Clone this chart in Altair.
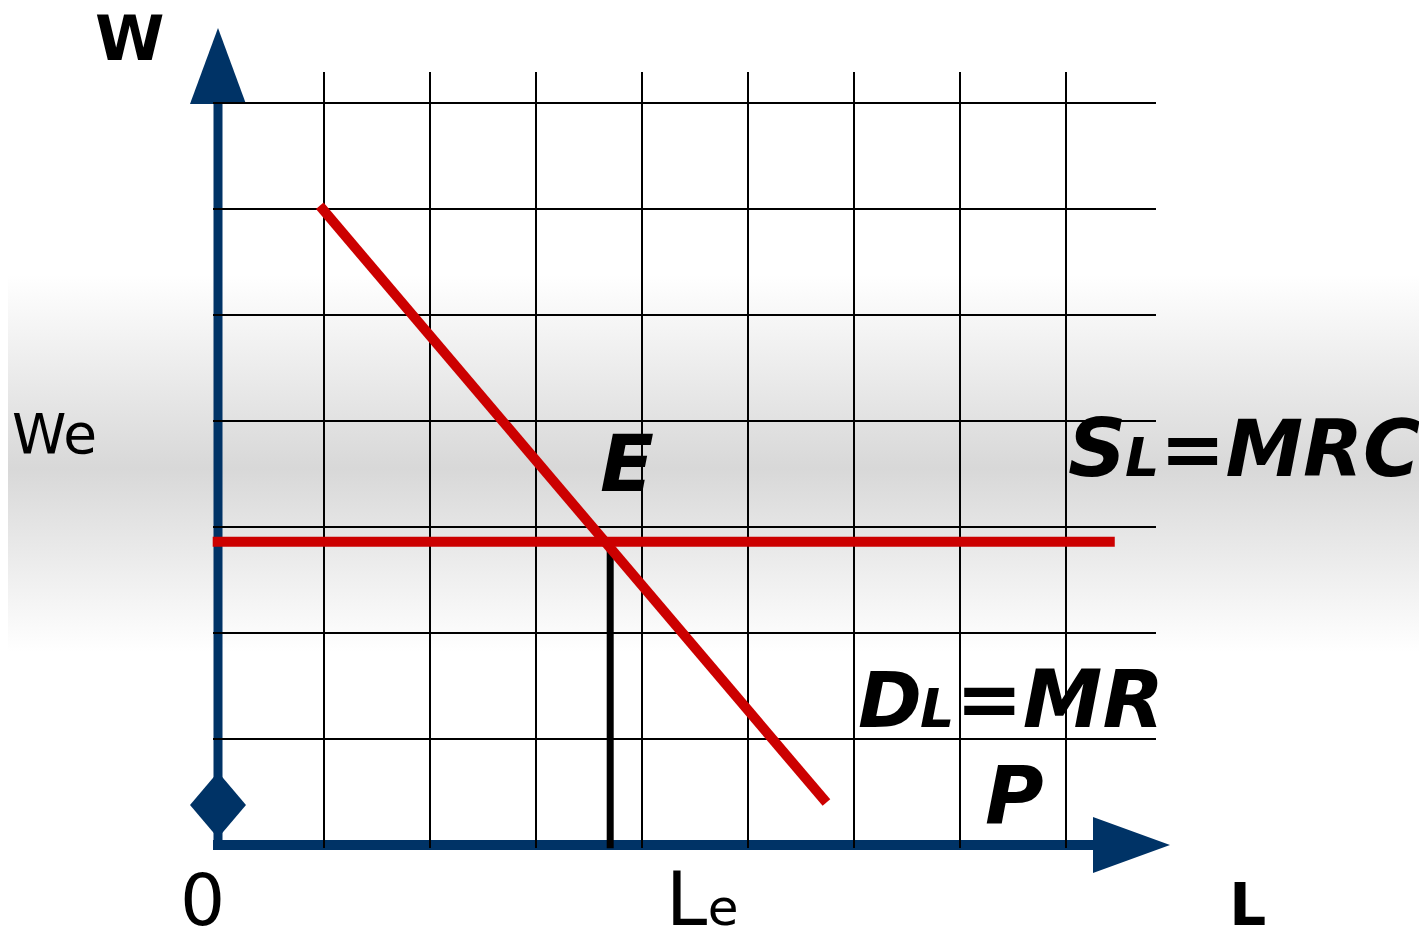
import altair as alt
import pandas as pd

# ---- data (grid units: one unit = one grid cell) ----
grid_x = [1, 2, 3, 4, 5, 6, 7, 8]
grid_y = [1, 2, 3, 4, 5, 6, 7]
demand_L = [0.96, 5.74]
demand_W = [6.03, 0.40]
supply_L = [-0.05, 8.46]
W_e = 2.86
L_e = 3.70

# annotation labels: text, L, W, size, group
lab_text = ["W", "We", "E", "S", "L", "=MRC", "D", "L", "=MR", "P", "0", "L", "e", "L"]
lab_L = [-1.160, -1.943, 3.604, 8.019, 8.557, 8.887, 6.038, 6.623, 6.960, 7.236, -0.358, 4.226, 4.620, 9.540]
lab_W = [7.406, 3.698, 3.340, 3.481, 3.481, 3.481, 1.113, 1.113, 1.113, 0.208, -0.755, -0.755, -0.755, -0.755]
lab_size = [63, 55, 79, 81, 54, 78, 77, 54, 80, 80, 71, 74, 50, 58]
lab_group = ["b", "n", "bi", "bi", "bi", "bi", "bi", "bi", "bi", "bi", "n", "n", "n", "b"]

NAVY = "#003366"
RED = "#cc0000"
W_PX, H_PX = 1411, 920
XMIN = -210 / 106
XMAX = XMIN + W_PX / 106
YMAX = 837 / 106
YMIN = YMAX - H_PX / 106

xs = alt.Scale(domain=[XMIN, XMAX], nice=False, zero=False)
ys = alt.Scale(domain=[YMIN, YMAX], nice=False, zero=False)


def X(f, **k):
    return alt.X(f, type="quantitative", scale=xs, axis=None, **k)


def Y(f, **k):
    return alt.Y(f, type="quantitative", scale=ys, axis=None, **k)


# background gradient band
bg_df = pd.DataFrame({"x0": [XMIN], "x1": [XMAX], "y0": [YMIN], "y1": [YMAX]})
bg = alt.Chart(bg_df).mark_rect(
    color={
        "gradient": "linear",
        "x1": 0, "x2": 0, "y1": 0, "y2": 1,
        "stops": [
            {"offset": 0.0, "color": "#ffffff"},
            {"offset": 0.29, "color": "#ffffff"},
            {"offset": 0.50, "color": "#d8d8d8"},
            {"offset": 0.70, "color": "#ffffff"},
            {"offset": 1.0, "color": "#ffffff"},
        ],
    }
).encode(x=X("x0"), x2="x1", y=Y("y0"), y2="y1")

# axes
yaxis = alt.Chart(pd.DataFrame({"x": [0], "y0": [-0.047], "y1": [7.0]})).mark_rule(
    color=NAVY, strokeWidth=9).encode(x=X("x"), y=Y("y0"), y2="y1")
xaxis = alt.Chart(pd.DataFrame({"y": [0], "x0": [-0.047], "x1": [8.35]})).mark_rule(
    color=NAVY, strokeWidth=10).encode(y=Y("y"), x=X("x0"), x2="x1")

up_arrow = alt.Chart(pd.DataFrame({"x": [0], "y": [779 / 106]})).mark_point(
    shape="M0,-1L0.737,1L-0.737,1Z", size=76 ** 2, filled=True, color=NAVY, opacity=1, strokeWidth=0
).encode(x=X("x"), y=Y("y"))
right_arrow = alt.Chart(pd.DataFrame({"x": [913.5 / 106], "y": [0]})).mark_point(
    shape="M-1,-0.727L1,0L-1,0.727Z", size=77 ** 2, filled=True, color=NAVY, opacity=1, strokeWidth=0
).encode(x=X("x"), y=Y("y"))
diamond = alt.Chart(pd.DataFrame({"x": [0], "y": [40 / 106]})).mark_point(
    shape="M0,-1L0.848,0L0,1L-0.848,0Z", size=66 ** 2, filled=True, color=NAVY, opacity=1, strokeWidth=0
).encode(x=X("x"), y=Y("y"))

# grid
vgrid = alt.Chart(pd.DataFrame({"x": grid_x})).mark_rule(color="black", strokeWidth=2).encode(
    x=X("x"), y=alt.YDatum(-0.028, scale=ys, axis=None), y2=alt.Y2Datum(7.292))
hgrid = alt.Chart(pd.DataFrame({"y": grid_y})).mark_rule(color="black", strokeWidth=2).encode(
    y=Y("y"), x=alt.XDatum(-0.047, scale=xs, axis=None), x2=alt.X2Datum(8.849))

# equilibrium drop line
drop = alt.Chart(pd.DataFrame({"x": [L_e], "y0": [W_e], "y1": [-0.03]})).mark_rule(
    color="black", strokeWidth=7).encode(x=X("x"), y=Y("y0"), y2="y1")

supply = alt.Chart(pd.DataFrame({"x0": [supply_L[0]], "x1": [supply_L[1]], "y": [W_e]})).mark_rule(
    color=RED, strokeWidth=10).encode(y=Y("y"), x=X("x0"), x2="x1")
demand = alt.Chart(pd.DataFrame({"L": demand_L, "W": demand_W})).mark_line(
    color=RED, strokeWidth=10, strokeCap="butt").encode(x=X("L"), y=Y("W"))

labels = pd.DataFrame({"t": lab_text, "L": lab_L, "W": lab_W, "s": lab_size, "g": lab_group})


def text_layer(group, weight, style):
    return alt.Chart(labels).transform_filter(alt.datum.g == group).mark_text(
        align="left", baseline="alphabetic", font="DejaVu Sans", fontWeight=weight,
        fontStyle=style, color="black"
    ).encode(x=X("L"), y=Y("W"), text="t:N", size=alt.Size("s:Q", scale=None, legend=None))


t_n = text_layer("n", "normal", "normal")
t_b = text_layer("b", "bold", "normal")
t_bi = text_layer("bi", "bold", "italic")

chart = alt.layer(
    bg, yaxis, xaxis, up_arrow, right_arrow, diamond, vgrid, hgrid, drop, supply, demand, t_n, t_b, t_bi
).properties(width=W_PX, height=H_PX, padding=0, autosize="none").configure_view(stroke=None)

chart.save("out.html", embed_options={"renderer": "svg", "actions": False})
